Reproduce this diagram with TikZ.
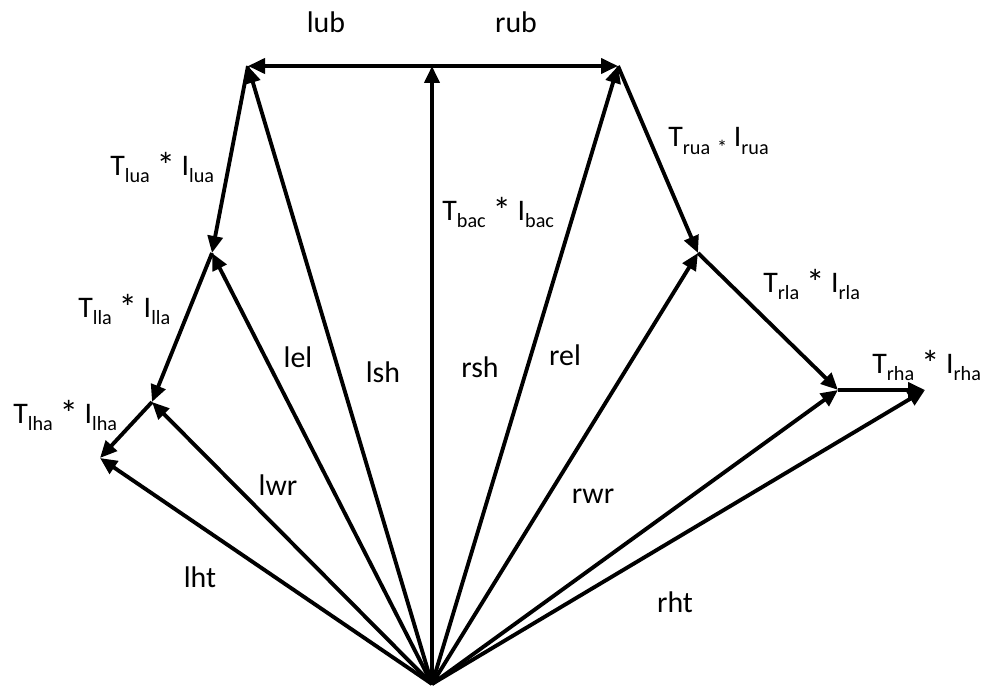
\documentclass[tikz,border=0pt]{standalone}
\usepackage{fontspec}
\setmainfont{Carlito}
\usetikzlibrary{arrows.meta}
\newcommand{\indice}[1]{\raisebox{-4.5pt}{\fontsize{11.5}{12}\selectfont #1}}
\newcommand{\vezes}{\raisebox{-2pt}{\fontsize{21}{20}\selectfont *}}
\tikzset{
  seta/.style={-{Triangle[length=3.4mm,width=3mm]}, line width=2.2pt, black},
  rotulo/.style={font=\fontsize{17}{20}\selectfont, inner sep=0pt},
}

\begin{document}
\begin{tikzpicture}[x=0.02cm, y=-0.02cm]
  \useasboundingbox (0,0) rectangle (987,686);
  % pontos
  \coordinate (O) at (432,684);
  \coordinate (bac) at (432,66);
  \coordinate (lsh) at (248,66);
  \coordinate (rsh) at (618,66);
  \coordinate (lel) at (212,253);
  \coordinate (lwr) at (152,402);
  \coordinate (lht) at (100,458);
  \coordinate (rel) at (698,253);
  \coordinate (rwr) at (838,390);
  \coordinate (rht) at (925,390);
  % vetores
  \draw[seta] (O) -- (bac);
  \draw[seta] (bac) -- (lsh);
  \draw[seta] (bac) -- (rsh);
  \draw[seta] (O) -- (lsh);
  \draw[seta] (O) -- (rsh);
  \draw[seta] (lsh) -- (lel);
  \draw[seta] (rsh) -- (rel);
  \draw[seta] (O) -- (lel);
  \draw[seta] (O) -- (rel);
  \draw[seta] (lel) -- (lwr);
  \draw[seta] (rel) -- (rwr);
  \draw[seta] (O) -- (lwr);
  \draw[seta] (O) -- (rwr);
  \draw[seta] (lwr) -- (lht);
  \draw[seta] (rwr) -- (rht);
  \draw[seta] (O) -- (lht);
  \draw[seta] (O) -- (rht);
  % rotulos
  \node[rotulo, anchor=base] (tlub) at (326,33) {lub};
  \node[rotulo, anchor=base] (trub) at (516,33) {rub};
  \node[rotulo, anchor=base] (tlel) at (298,367) {lel};
  \node[rotulo, anchor=base] (tlsh) at (383,382) {lsh};
  \node[rotulo, anchor=base] (trsh) at (480,377) {rsh};
  \node[rotulo, anchor=base] (trel) at (565,365) {rel};
  \node[rotulo, anchor=base] (tlwr) at (278,495) {lwr};
  \node[rotulo, anchor=base] (trwr) at (593,503) {rwr};
  \node[rotulo, anchor=base] (tlht) at (200,587) {lht};
  \node[rotulo, anchor=base] (trht) at (675,612) {rht};
  \node[rotulo, anchor=base west] (tlua) at (110,175) {T\indice{lua} \vezes{} I\indice{lua}};
  \node[rotulo, anchor=base west] (tlla) at (78,317) {T\indice{lla} \vezes{} I\indice{lla}};
  \node[rotulo, anchor=base west] (tlha) at (13,423) {T\indice{lha} \vezes{} I\indice{lha}};
  \node[rotulo, anchor=base west] (tbac) at (442,220) {T\indice{bac} \vezes{} I\indice{bac}};
  \node[rotulo, anchor=base west] (trua) at (668,147) {T\indice{rua} \indice{*} I\indice{rua}};
  \node[rotulo, anchor=base west] (trla) at (763,292) {T\indice{rla} \vezes{} I\indice{rla}};
  \node[rotulo, anchor=base west] (trha) at (872,373) {T\indice{rha} \vezes{} I\indice{rha}};
\end{tikzpicture}
\end{document}
